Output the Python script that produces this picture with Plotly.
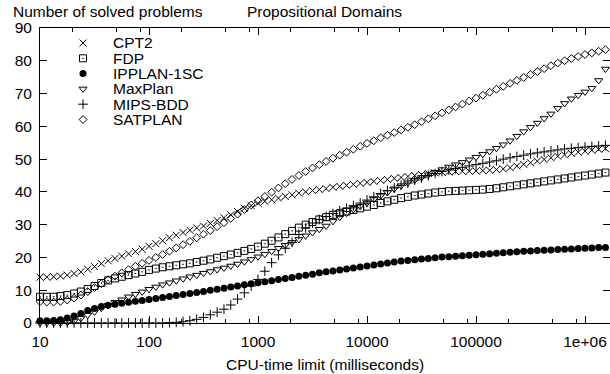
import plotly.graph_objects as go

# ---------------- data ----------------
time_ms = [10, 11.55, 13.34, 15.40, 17.78, 20.54, 23.71, 27.38, 31.62, 36.52, 42.17, 48.70, 56.23, 64.94, 74.99, 86.60,
           100, 115.5, 133.4, 154.0, 177.8, 205.4, 237.1, 273.8, 316.2, 365.2, 421.7, 487.0, 562.3, 649.4, 749.9, 866.0,
           1000, 1155, 1334, 1540, 1778, 2054, 2371, 2738, 3162, 3652, 4217, 4870, 5623, 6494, 7499, 8660,
           10000, 11550, 13340, 15400, 17780, 20540, 23710, 27380, 31620, 36520, 42170, 48700, 56230, 64940, 74990, 86600,
           100000, 115500, 133400, 154000, 177800, 205400, 237100, 273800, 316200, 365200, 421700, 487000, 562300, 649400, 749900, 866000,
           1000000, 1155000, 1334000, 1540000, 1778000]

cpt2 = [14.0, 14.0, 14.1, 14.3, 14.6, 15.1, 15.6, 16.4, 17.2, 18.1, 19.0, 19.7, 20.4, 21.1, 21.8, 22.5,
        23.4, 24.2, 25.1, 26.0, 26.8, 27.6, 28.3, 29.0, 29.6, 30.4, 31.3, 32.1, 33.0, 34.0, 35.0, 35.8,
        36.5, 37.1, 37.6, 38.1, 38.6, 39.1, 39.6, 40.0, 40.4, 40.7, 41.0, 41.4, 41.7, 42.0, 42.3, 42.6,
        42.9, 43.2, 43.5, 43.8, 44.1, 44.4, 44.7, 45.0, 45.3, 45.6, 45.8, 46.0, 46.1, 46.2, 46.3, 46.3,
        46.4, 46.5, 46.6, 46.8, 47.0, 47.4, 47.9, 48.4, 48.9, 49.4, 49.9, 50.4, 50.9, 51.3, 51.7, 52.1,
        52.4, 52.7, 53.0, 53.2, 53.4]

fdp = [8.0, 8.0, 8.0, 8.2, 8.5, 9.0, 9.6, 10.4, 11.3, 12.2, 13.0, 13.6, 14.1, 14.6, 15.1, 15.6,
       16.2, 16.6, 17.0, 17.3, 17.6, 17.9, 18.2, 18.6, 19.0, 19.4, 19.9, 20.4, 20.9, 21.4, 22.0, 22.6,
       23.3, 24.2, 25.1, 26.1, 27.1, 28.1, 29.1, 30.0, 30.8, 31.6, 32.3, 33.0, 33.5, 34.0, 34.5, 35.0,
       35.5, 36.0, 36.6, 37.1, 37.6, 38.1, 38.5, 38.9, 39.2, 39.5, 39.8, 40.0, 40.2, 40.3, 40.4, 40.5,
       40.6, 40.7, 40.9, 41.1, 41.4, 41.7, 42.0, 42.3, 42.6, 42.9, 43.2, 43.5, 43.8, 44.1, 44.4, 44.7,
       45.0, 45.3, 45.6, 45.9, 46.1]

ipplan_1sc = [0.7, 0.7, 0.8, 1.0, 1.5, 2.1, 2.9, 3.8, 4.4, 5.0, 5.4, 5.7, 6.0, 6.3, 6.6, 6.9,
              7.2, 7.5, 7.8, 8.1, 8.4, 8.7, 9.0, 9.3, 9.6, 10.0, 10.3, 10.6, 11.0, 11.3, 11.7, 12.0,
              12.3, 12.6, 12.9, 13.3, 13.6, 13.9, 14.3, 14.6, 14.9, 15.3, 15.6, 15.9, 16.2, 16.5, 16.8, 17.1,
              17.4, 17.7, 18.0, 18.3, 18.6, 18.9, 19.1, 19.3, 19.5, 19.7, 19.9, 20.1, 20.2, 20.4, 20.5, 20.7,
              20.8, 21.0, 21.1, 21.3, 21.4, 21.6, 21.7, 21.9, 22.0, 22.1, 22.2, 22.3, 22.4, 22.5, 22.6, 22.7,
              22.8, 22.9, 23.0, 23.0, 23.1]

maxplan = [0.0, 0.0, 0.0, 0.0, 0.2, 0.6, 1.4, 2.4, 3.4, 4.5, 5.4, 6.3, 7.1, 8.0, 8.8, 9.5,
           10.3, 11.0, 11.7, 12.3, 12.9, 13.5, 14.1, 14.6, 15.2, 15.7, 16.3, 16.8, 17.4, 18.0, 18.7, 19.4,
           20.2, 21.0, 21.9, 22.8, 23.7, 24.6, 25.5, 26.6, 27.6, 28.6, 29.6, 31.0, 32.3, 33.5, 34.6, 35.6,
           36.6, 37.7, 38.8, 39.8, 40.9, 41.9, 42.8, 43.6, 44.4, 45.2, 46.0, 46.8, 47.6, 48.3, 49.0, 49.8,
           50.6, 51.5, 52.3, 53.3, 54.4, 55.6, 57.0, 58.4, 59.7, 61.0, 62.4, 63.8, 65.5, 67.0, 68.4, 69.5,
           70.5, 71.6, 74.0, 77.5, 81.0]

mips_bdd = [0, 0, 0, 0, 0, 0, 0, 0, 0, 0, 0, 0, 0, 0, 0, 0,
            0, 0, 0, 0.1, 0.2, 0.4, 0.7, 1.1, 1.7, 2.5, 3.3, 4.2, 5.5, 7.3, 9.2, 11.3,
            13.3, 15.8, 18.4, 20.8, 22.8, 24.6, 27.0, 29.0, 30.5, 31.6, 32.5, 33.4, 34.2, 35.0, 35.8, 36.6,
            37.5, 38.5, 39.5, 40.4, 41.2, 42.0, 42.7, 43.6, 44.3, 45.0, 45.6, 46.2, 46.7, 47.1, 47.5, 47.9,
            48.3, 48.7, 49.1, 49.5, 50.0, 50.4, 50.8, 51.2, 51.6, 51.9, 52.2, 52.5, 52.8, 53.1, 53.3, 53.5,
            53.7, 53.9, 54.0, 54.2, 54.3]

satplan = [6.5, 6.4, 6.4, 6.6, 7.0, 7.6, 8.5, 9.6, 10.8, 12.0, 13.2, 14.3, 15.3, 16.3, 17.3, 18.2,
           19.1, 20.0, 20.9, 21.9, 22.9, 23.9, 24.9, 26.0, 27.1, 28.2, 29.4, 30.6, 31.9, 33.2, 34.6, 36.0,
           37.3, 38.6, 39.9, 41.2, 42.5, 43.8, 45.0, 46.2, 47.3, 48.3, 49.3, 50.3, 51.2, 52.1, 53.0, 53.9,
           54.8, 55.6, 56.5, 57.3, 58.1, 58.9, 59.7, 60.5, 61.4, 62.3, 63.2, 64.1, 65.0, 65.9, 66.8, 67.7,
           68.6, 69.5, 70.4, 71.3, 72.2, 73.1, 74.0, 74.9, 75.8, 76.7, 77.6, 78.5, 79.3, 80.0, 80.7, 81.3,
           81.9, 82.4, 82.9, 83.4, 83.8]

series_names = ["CPT2", "FDP", "IPPLAN-1SC", "MaxPlan", "MIPS-BDD", "SATPLAN"]
series_values = [cpt2, fdp, ipplan_1sc, maxplan, mips_bdd, satplan]

x_tick_vals = [10, 100, 1000, 10000, 100000, 1000000]
x_tick_text = ["10", "100", "1000", "10000", "100000", "1e+06"]
x_minor_vals = [20, 50, 83, 200, 500, 830, 2000, 5000, 8300, 20000, 50000, 83000,
                200000, 500000, 830000]
y_tick_vals = [0, 10, 20, 30, 40, 50, 60, 70, 80, 90]

title_left = "Number of solved problems"
title_mid = "Propositional Domains"
x_title = "CPU-time limit (milliseconds)"

# ---------------- styles ----------------
FONT = "Liberation Sans, Arial, Helvetica, sans-serif"
FS = 15.5
styles = [
    dict(symbol="x-thin-open", size=7, color="black", line=dict(color="black", width=1)),
    dict(symbol="square-open-dot", size=7, color="black", line=dict(color="black", width=1)),
    dict(symbol="circle", size=7, color="black", line=dict(color="black", width=0)),
    dict(symbol="triangle-down-open", size=7, color="black", line=dict(color="black", width=1)),
    dict(symbol="cross-thin-open", size=7, color="black", line=dict(color="black", width=1)),
    dict(symbol="diamond-open", size=6, color="black", line=dict(color="black", width=1)),
]

W, H = 610, 374
L, R, T, B = 40, 610, 28, 323   # plot area in pixels


def px_to_paper(px, py):
    return (px - L) / (R - L), (B - py) / (B - T)


fig = go.Figure()
for name, vals, st in zip(series_names, series_values, styles):
    fig.add_trace(go.Scatter(x=time_ms, y=vals, mode="markers", name=name,
                             marker=st, cliponaxis=False, showlegend=False,
                             hoverinfo="skip"))

# manual legend (pixel-coordinate helper axes for the key symbols)
leg_mx, leg_tx, leg_y0, leg_dy = 83, 111, 43, 15.3
for i, (name, st) in enumerate(zip(series_names, styles)):
    y = leg_y0 + i * leg_dy
    fig.add_trace(go.Scatter(x=[leg_mx], y=[y], xaxis="x2", yaxis="y2", mode="markers",
                             marker=st, showlegend=False, hoverinfo="skip", cliponaxis=False))
    ax, ay = px_to_paper(leg_tx, y)
    fig.add_annotation(x=ax, y=ay, xref="paper", yref="paper", text=name, showarrow=False,
                       xanchor="left", yanchor="middle", font=dict(family=FONT, size=FS, color="black"))

for txt, (px, py), anchor in [(title_left, (11, 12), "left"),
                              (title_mid, (245, 12), "left"),
                              (x_title, ((L + R) / 2, 364), "center")]:
    ax, ay = px_to_paper(px, py)
    fig.add_annotation(x=ax, y=ay, xref="paper", yref="paper", text=txt, showarrow=False,
                       xanchor=anchor, yanchor="middle", font=dict(family=FONT, size=FS, color="black"))

axis_common = dict(showline=True, linecolor="black", linewidth=1, mirror="ticks",
                   ticks="inside", ticklen=7, tickwidth=1, tickcolor="black",
                   showgrid=False, zeroline=False,
                   tickfont=dict(family=FONT, size=FS, color="black"))

fig.update_layout(
    width=W, height=H,
    margin=dict(l=L, r=W - R, t=T, b=H - B, pad=0),
    paper_bgcolor="white", plot_bgcolor="white",
    showlegend=False,
    xaxis=dict(type="log", range=[1, 1 + (R - L) / 109.0],
               tickmode="array", tickvals=x_tick_vals, ticktext=x_tick_text,
               ticklabelstandoff=4,
               minor=dict(tickmode="array", tickvals=x_minor_vals, ticks="inside",
                          ticklen=4, tickwidth=1, tickcolor="black", showgrid=False),
               **axis_common),
    yaxis=dict(range=[0, 90], tickmode="array", tickvals=y_tick_vals,
               ticklabelstandoff=4, **axis_common),
    xaxis2=dict(overlaying="x", range=[L, R], visible=False, fixedrange=True),
    yaxis2=dict(overlaying="y", range=[B, T], visible=False, fixedrange=True),
)

fig.write_html("out.html")
